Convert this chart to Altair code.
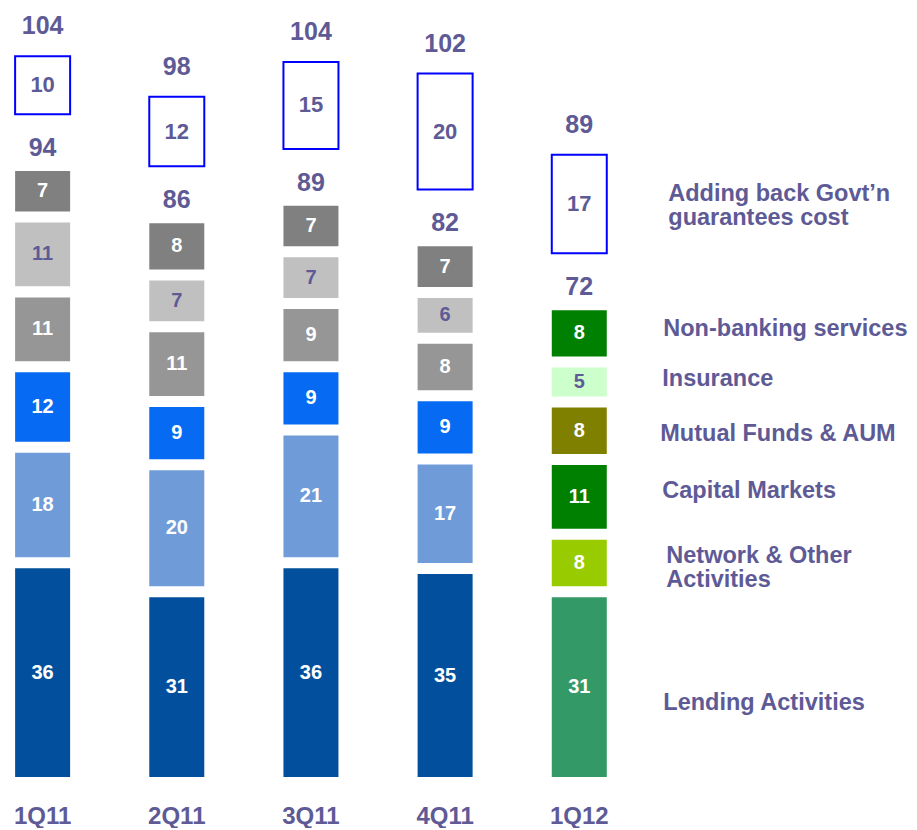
import altair as alt
import pandas as pd

# ---------------- data ----------------
quarters = ["1Q11", "2Q11", "3Q11", "4Q11", "1Q12"]

keys_2011 = ["A1", "A2", "A3", "A4", "A5", "A6"]
keys_2012 = ["Lending Activities", "Network & Other Activities", "Capital Markets",
             "Mutual Funds & AUM", "Insurance", "Non-banking services"]

vals_1Q11 = [36, 18, 12, 11, 11, 7]
vals_2Q11 = [31, 20, 9, 11, 7, 8]
vals_3Q11 = [36, 21, 9, 9, 7, 7]
vals_4Q11 = [35, 17, 9, 8, 6, 7]
vals_1Q12 = [31, 8, 11, 8, 5, 8]

govt_addback = [10, 12, 15, 20, 17]
stack_totals = [94, 86, 89, 82, 72]
grand_totals = [104, 98, 104, 102, 89]

addback_label = "Adding back Govt’n\nguarantees cost"
series_labels = ["Lending Activities", "Network & Other\nActivities", "Capital Markets",
                 "Mutual Funds & AUM", "Insurance", "Non-banking services"]

# ---------------- layout constants (not data) ----------------
GAP = 1.9       # gap between stacked segments (value units)
BOX_GAP = 9.8   # gap between stack and add-back box (value units)
PURPLE = "#5E5A96"
FONT = "Liberation Sans"

all_vals = [vals_1Q11, vals_2Q11, vals_3Q11, vals_4Q11, vals_1Q12]
rows, boxes = [], []
for qi, q in enumerate(quarters):
    keys = keys_2012 if q == "1Q12" else keys_2011
    base = 0.0
    for k, v in zip(keys, all_vals[qi]):
        rows.append(dict(quarter=q, key=k, value=v, y0=base, y1=base + v,
                         mid=base + v / 2))
        base += v + GAP
    top = base - GAP
    b0 = top + BOX_GAP
    b1 = b0 + govt_addback[qi]
    boxes.append(dict(quarter=q, value=govt_addback[qi], stack_top=top,
                      b0=b0, b1=b1, bmid=(b0 + b1) / 2,
                      stack_total=stack_totals[qi], grand_total=grand_totals[qi]))

seg = pd.DataFrame(rows)
box = pd.DataFrame(boxes)

color_domain = keys_2011 + keys_2012
color_range = ["#02509D", "#6F9CD9", "#066BF2", "#969696", "#C0C0C0", "#808080",
               "#339966", "#99CC00", "#008000", "#808000", "#CCFFCC", "#008000"]
light_expr = "datum.key == 'A5' || datum.key == 'Insurance'"

W, H = 860, 769
x = alt.X("quarter:N", sort=quarters,
          scale=alt.Scale(domain=quarters, paddingInner=0.59, paddingOuter=1.0,
                          align=0.0265, round=False),
          axis=alt.Axis(title=None, domain=False, ticks=False, labelAngle=0,
                        labelFont=FONT, labelFontSize=24, labelFontWeight="bold",
                        labelColor=PURPLE, labelPadding=27, grid=False))
yscale = alt.Scale(domain=[0, 132.6], nice=False, zero=True)


def Y(field):
    return alt.Y(f"{field}:Q", scale=yscale, axis=None)


bars = alt.Chart(seg).mark_bar().encode(
    x=x, y=Y("y0"), y2="y1:Q",
    color=alt.Color("key:N", scale=alt.Scale(domain=color_domain, range=color_range),
                    legend=None))

seg_text_dark = alt.Chart(seg).transform_filter(f"!({light_expr})").mark_text(
    font=FONT, fontSize=20, fontWeight="bold", color="white", baseline="middle"
).encode(x=x, y=Y("mid"), text="value:Q")

seg_text_light = alt.Chart(seg).transform_filter(light_expr).mark_text(
    font=FONT, fontSize=20, fontWeight="bold", color=PURPLE, baseline="middle"
).encode(x=x, y=Y("mid"), text="value:Q")

box_bars = alt.Chart(box).mark_bar(fill="white", stroke="#0000FF", strokeWidth=2).encode(
    x=x, y=Y("b0"), y2="b1:Q")

box_text = alt.Chart(box).mark_text(font=FONT, fontSize=22, fontWeight="bold",
                                    color=PURPLE, baseline="middle").encode(
    x=x, y=Y("bmid"), text="value:Q")

stack_tot = alt.Chart(box).mark_text(font=FONT, fontSize=25, fontWeight="bold",
                                     color=PURPLE, baseline="middle", dy=-23).encode(
    x=x, y=Y("stack_top"), text="stack_total:Q")

grand_tot = alt.Chart(box).mark_text(font=FONT, fontSize=25, fontWeight="bold",
                                     color=PURPLE, baseline="middle", dy=-30).encode(
    x=x, y=Y("b1"), text="grand_total:Q")

# right-hand labels tied to 1Q12 segments
q12 = seg[seg.quarter == "1Q12"].reset_index(drop=True)
label_rows = [dict(quarter="1Q12", label=lab, ymid=m) for lab, m in zip(series_labels, q12["mid"])]
label_rows.append(dict(quarter="1Q12", label=addback_label,
                       ymid=float(box[box.quarter == "1Q12"]["bmid"].iloc[0])))
lab_df = pd.DataFrame(label_rows)

offsets = {  # label -> (dx, dy) styling offsets in pixels
    "Lending Activities": (84, 16),
    "Network & Other\nActivities": (87, -7),
    "Capital Markets": (83, -6),
    "Mutual Funds & AUM": (81, 3),
    "Insurance": (83, -3),
    "Non-banking services": (84, -4),
    addback_label: (89, -10),
}
label_layers = []
for lab, (dx, dy) in offsets.items():
    label_layers.append(
        alt.Chart(lab_df).transform_filter(alt.datum.label == lab).mark_text(
            font=FONT, fontSize=23.5, fontWeight="bold", color=PURPLE, align="left",
            baseline="middle", dx=dx, dy=dy, lineBreak="\n", lineHeight=24
        ).encode(x=x, y=Y("ymid"), text="label:N"))

chart = alt.layer(bars, seg_text_dark, seg_text_light, box_bars, box_text,
                  stack_tot, grand_tot, *label_layers).properties(
    width=W, height=H, padding=0
).configure_view(stroke=None)

chart.save("out.html", embed_options={"renderer": "svg", "actions": False})
